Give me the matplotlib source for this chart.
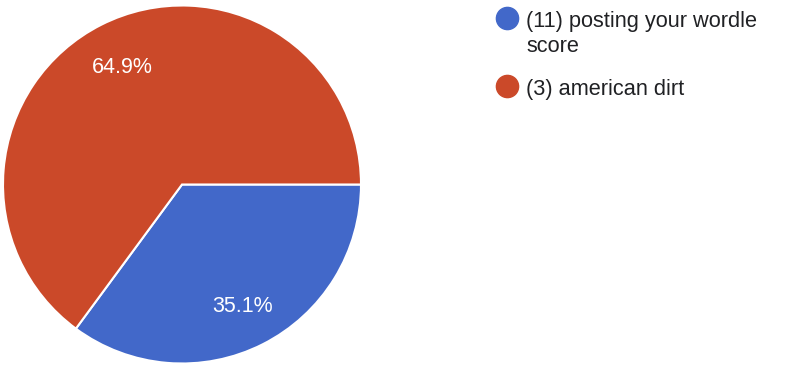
import matplotlib.pyplot as plt
from matplotlib.lines import Line2D

plt.rcParams['font.family'] = ['Liberation Sans', 'DejaVu Sans']

labels = ["(11) posting your wordle\nscore", "(3) american dirt"]
values = [35.1, 64.9]
colors = ["#4268C9", "#CB4929"]

W, H = 805, 368
fig = plt.figure(figsize=(W / 100, H / 100), dpi=100)

# pie centred at (182, 184.5) px, radius 179 px
cx, cy, r = 182, 184.5, 179
ax = fig.add_axes([(cx - r) / W, (H - cy - r) / H, 2 * r / W, 2 * r / H])
wedges, texts, autotexts = ax.pie(
    values, colors=colors, startangle=0, counterclock=False,
    autopct=lambda p: f"{p:.1f}%", pctdistance=0.745,
    wedgeprops=dict(edgecolor="white", linewidth=1.5),
    textprops=dict(color="white", fontsize=15.5))
for t in autotexts:
    t.set_va("center_baseline")
ax.set_xlim(-1, 1)
ax.set_ylim(-1, 1)
ax.axis("off")

# legend, drawn by hand so the marker sits on the first text line
# (va="baseline" lines up the last line of a wrapped label)
marker_y = [18, 85.5]
baseline_y = [52.5, 94.5]
for lab, col, my, by in zip(labels, colors, marker_y, baseline_y):
    fig.add_artist(Line2D([507 / W], [1 - my / H], marker="o", markersize=16,
                          color=col, linestyle="none",
                          transform=fig.transFigure))
    fig.text(526 / W, 1 - by / H, lab, fontsize=15.7, color="#202124",
             va="baseline", ha="left", linespacing=1.28)

fig.savefig("out.png", dpi=100)
